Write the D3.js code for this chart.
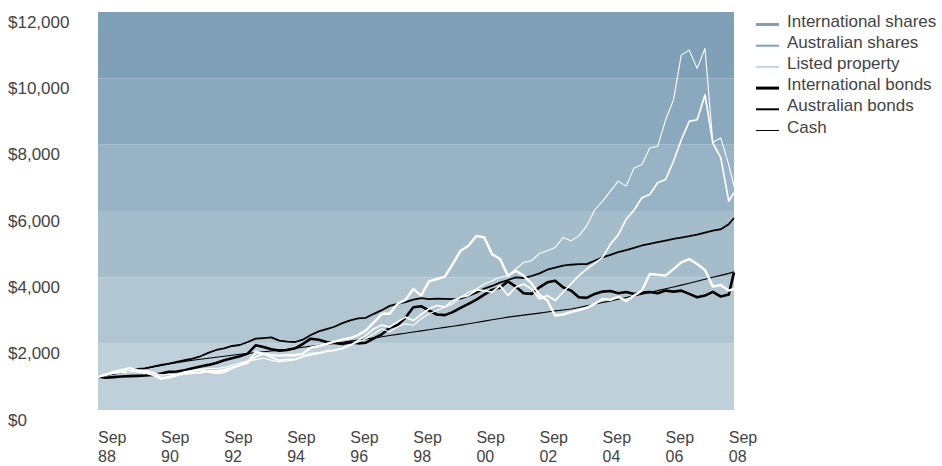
<!DOCTYPE html>
<html>
<head>
<meta charset="utf-8">
<script src="https://cdn.jsdelivr.net/npm/d3@7"></script>
<style>
  html, body { margin: 0; padding: 0; background: #ffffff; }
  svg text { font-family: "Liberation Sans", Arial, Helvetica, sans-serif; fill: #444444; }
</style>
</head>
<body>
<svg id="chart" width="942" height="466"></svg>
<script>
// Growth of $1,000 invested, Sep 1988 – Nov 2008 (quarterly readings: Sep, Dec, Mar, Jun each year)
const seriesNames = ["International shares", "Australian shares", "Listed property",
                     "International bonds", "Australian bonds", "Cash"];

const internationalShares = [
  1000,1060,1150,1200, 1260,1200,1180,1120, 960,980,1050,1100, 1120,1130,1180,1160,
  1200,1280,1350,1420, 1750,1700,1650,1640, 1650,1650,1700,1880, 1930,1990,2060,2120,
  2170,2260,2400,2640, 2900,2900,3200,3320, 3650,3450,3880,3950, 4020,4400,4800,4950,
  5250,5200,4700,4550, 4050,4200,4050,3820, 3470,3300,2850,2880, 2950,3010,3080,3200,
  3350,3320,3420,3280, 3450,3600,4100,4080, 4050,4250,4450,4550, 4400,4220,3720,3770,
  3600,3650
];
const australianShares = [
  1000,1080,1120,1150, 1200,1150,1120,1050, 930,1000,1050,1150, 1180,1220,1150,1100,
  1130,1250,1350,1480, 1600,1700,1580,1500, 1530,1520,1620,1700, 1720,1780,1800,1850,
  1950,2100,2250,2450, 2560,2500,2650,2800, 2700,2880,3050,3150, 3100,3300,3400,3450,
  3620,3600,3550,3750, 3450,3700,3800,3650, 3350,3450,3300,3550, 3800,4050,4250,4420,
  4600,5000,5280,5750, 6030,6400,6500,6850, 6950,7500,8140,8700, 8750,9500,8050,7600,
  6300,6550
];
const listedProperty = [
  1000,1050,1100,1120, 1150,1170,1160,1120, 1060,1080,1050,1100, 1180,1230,1260,1250,
  1280,1350,1420,1480, 1520,1560,1500,1450, 1480,1520,1600,1650, 1700,1760,1800,1880,
  1960,2050,2150,2300, 2450,2350,2500,2600, 2550,2750,2900,3000, 3100,3200,3400,3550,
  3650,3800,3900,4000, 4050,4250,4450,4500, 4720,4800,4900,5200, 5100,5250,5550,6030,
  6300,6600,6900,6750, 7300,7400,7900,7950, 8750,9350,10700,10850, 10300,10900,8070,8200,
  7400,6750
];
const internationalBonds = [
  1000,970,990,1010, 1020,1030,1040,1060, 1100,1150,1160,1200, 1260,1310,1360,1420,
  1500,1560,1620,1700, 1950,1900,1830,1790, 1810,1860,1990,2150, 2120,2050,2020,1990,
  2040,2010,2030,2160, 2280,2480,2560,2780, 3100,3130,3000,2880, 2860,2950,3080,3200,
  3330,3480,3620,3690, 3880,3720,3520,3500, 3700,3850,3900,3700, 3600,3400,3380,3500,
  3570,3590,3520,3560, 3500,3540,3560,3520, 3600,3570,3600,3500, 3400,3450,3560,3420,
  3480,4150
];
const australianBonds = [
  1000,1050,1110,1180, 1230,1240,1257,1310, 1357,1400,1450,1500, 1550,1620,1720,1810,
  1860,1930,1960,2050, 2150,2170,2190,2090, 2060,2050,2120,2260, 2370,2440,2510,2620,
  2700,2760,2780,2900, 3010,3140,3200,3250, 3330,3370,3340,3360, 3350,3340,3360,3440,
  3540,3660,3740,3840, 3920,4000,3980,4040, 4120,4230,4290,4350, 4380,4400,4400,4500,
  4600,4680,4760,4820, 4890,4960,5010,5060, 5110,5160,5200,5240, 5290,5350,5410,5450,
  5600,5790
];
const cash = [
  1000,1040,1080,1120, 1165,1210,1255,1300, 1345,1385,1425,1465, 1500,1530,1560,1590,
  1620,1650,1680,1705, 1730,1755,1780,1805, 1830,1860,1890,1920, 1950,1980,2010,2045,
  2080,2110,2140,2175, 2210,2245,2280,2315, 2350,2385,2420,2455, 2490,2525,2560,2600,
  2640,2680,2720,2760, 2800,2830,2860,2890, 2920,2955,2990,3015, 3045,3090,3140,3190,
  3240,3290,3340,3390, 3440,3490,3545,3600, 3655,3710,3765,3820, 3880,3940,4000,4060,
  4120,4170
];

const yTicks = [0, 2000, 4000, 6000, 8000, 10000, 12000];
const xTickYears = ["88", "90", "92", "94", "96", "98", "00", "02", "04", "06", "08"];

// Quarter-ends from Sep 1988 to Sep 2008, then the final month-end reading
const dates = d3.timeMonth.range(new Date(1988, 8, 1), new Date(2008, 9, 1), 3)
  .concat([new Date(2008, 10, 1)]);

const svg = d3.select("#chart");
const plot = { left: 98, right: 734, top: 12, bottom: 410 };
const fontSize = 17;

const x = d3.scaleTime()
  .domain([new Date(1988, 8, 1), new Date(2008, 10, 1)])
  .range([plot.left, plot.right]);
const y = d3.scaleLinear().domain([0, 12000]).range([plot.bottom, plot.top]);

// Horizontal shaded bands, darker toward the top
const bandColors = ["#bfd0da", "#b2c6d2", "#a5bccb", "#98b3c6", "#8aa9bf", "#7fa0b7"];
svg.append("g").selectAll("rect")
  .data(d3.pairs(yTicks))
  .join("rect")
  .attr("x", plot.left)
  .attr("width", plot.right - plot.left)
  .attr("y", d => y(d[1]))
  .attr("height", d => y(d[0]) - y(d[1]))
  .attr("fill", (d, i) => bandColors[i]);

// Y axis labels (left aligned, hanging from each band edge)
const fmt = d3.format("$,");
svg.append("g").selectAll("text")
  .data(yTicks)
  .join("text")
  .attr("x", 8)
  .attr("y", d => y(d) + 15.5)
  .attr("font-size", fontSize)
  .text(d => fmt(d));

// X axis labels: two lines, left aligned at each September
const xAxis = svg.append("g").selectAll("g")
  .data(xTickYears)
  .join("g")
  .attr("transform", (d, i) => `translate(${x(new Date(1988 + 2 * i, 8, 1))},0)`);
xAxis.append("text").attr("y", 443).attr("font-size", 16).text("Sep");
xAxis.append("text").attr("y", 462).attr("font-size", 16).text(d => d);

// Series lines
const series = [
  { name: seriesNames[5], values: cash,               stroke: "#000000", width: 1.1 },
  { name: seriesNames[4], values: australianBonds,    stroke: "#000000", width: 1.8 },
  { name: seriesNames[3], values: internationalBonds, stroke: "#000000", width: 2.6 },
  { name: seriesNames[2], values: listedProperty,     stroke: "#ffffff", width: 1.1 },
  { name: seriesNames[1], values: australianShares,   stroke: "#ffffff", width: 1.7 },
  { name: seriesNames[0], values: internationalShares, stroke: "#ffffff", width: 2.4 }
];

const line = d3.line()
  .x((d, i) => x(dates[i]))
  .y(d => y(d));

svg.append("g").selectAll("path")
  .data(series)
  .join("path")
  .attr("fill", "none")
  .attr("stroke", d => d.stroke)
  .attr("stroke-width", d => d.width)
  .attr("stroke-linejoin", "round")
  .attr("d", d => line(d.values));

// Legend
const legendItems = [
  { name: seriesNames[0], stroke: "#7fa0b7", width: 3 },
  { name: seriesNames[1], stroke: "#7fa0b7", width: 2 },
  { name: seriesNames[2], stroke: "#8fb0c6", width: 1 },
  { name: seriesNames[3], stroke: "#000000", width: 3 },
  { name: seriesNames[4], stroke: "#000000", width: 2 },
  { name: seriesNames[5], stroke: "#000000", width: 1 }
];
const legend = svg.append("g").selectAll("g")
  .data(legendItems)
  .join("g")
  .attr("transform", (d, i) => `translate(0,${26.5 + i * 21.2})`);
legend.append("line")
  .attr("x1", 756).attr("x2", 779)
  .attr("y1", -2).attr("y2", -2)
  .attr("stroke", d => d.stroke)
  .attr("stroke-width", d => d.width);
legend.append("text")
  .attr("x", 787)
  .attr("font-size", fontSize)
  .text(d => d.name);
</script>
</body>
</html>
